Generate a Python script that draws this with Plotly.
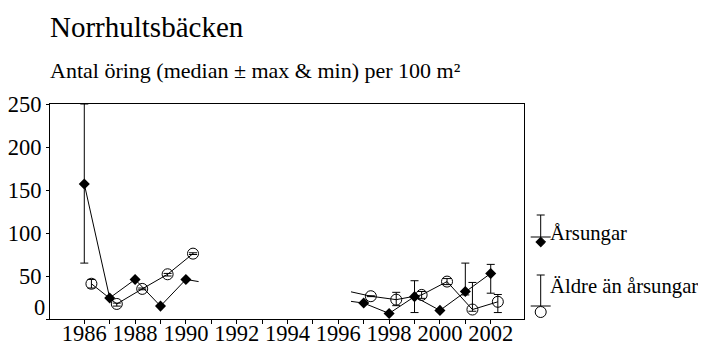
import plotly.graph_objects as go

# ---------------- data ----------------
years = list(range(1986, 2003))
N = None
ars_median = [157, 24.5, 46, 15, 46, N, N, N, N, N, N, 18.5, 6.5, 26, 10, 32, 53]
ars_min    = [65, 24.5, 46, 15, 46, N, N, N, N, N, N, 18.5, 6.5, 7.5, 10, 28, 30]
ars_max    = [250, 24.5, 46, 15, 46, N, N, N, N, N, N, 18.5, 6.5, 44.5, 10, 65, 63.5]

old_median = [41, 17.5, 35, 52, 76, N, N, N, N, N, N, 26.5, 22.5, 28, 43.5, 11, 20]
old_min    = [36, 15, 34, 50, 75, N, N, N, N, N, N, 26, 15.5, 24, 40, 9, 7.5]
old_max    = [46, 18.5, 36, 53, 77, N, N, N, N, N, N, 27, 31, 32, 47, 42.5, 28.5]
old_offset = 0.28

# partial line segments drawn toward the gap years
ars_stub_x = [1990.5, 1996.5]
ars_stub_y = [43.5, 20.5]
old_stub_x = [1996.5]
old_stub_y = [31.6]

tick_years = years
tick_labels = [str(y) if y % 2 == 0 else "" for y in years]
y_ticks = [0, 50, 100, 150, 200, 250]
y_labels = ["" if v == 0 else str(v) for v in y_ticks]

series_names = ["Årsungar", "Äldre än årsungar"]
title = "Norrhultsbäcken"
subtitle = "Antal öring (median ± max & min) per 100 m²"

FONT = "Liberation Serif, Times New Roman, serif"
TICK_SIZE = 22.5

# the page body adds an 8 px offset; work in window pixels and subtract it
OFF = 8
W, H = 706, 345
PL, PR, PT, PB = 50, 524, 104, 319   # plot box in window pixels


def line_path(xs, ys, sx, sy):
    pts = [(x, y) for x, y in zip(xs, ys) if y is not None] + list(zip(sx, sy))
    pts.sort()
    ox, oy = [], []
    prev = None
    for x, y in pts:
        if prev is not None and x - prev > 1.1:
            ox.append(None); oy.append(None)
        ox.append(x); oy.append(y)
        prev = x
    return ox, oy


def errs(med, lo, hi):
    plus = [None if m is None else h - m for m, h in zip(med, hi)]
    minus = [None if m is None else m - l for m, l in zip(med, lo)]
    return plus, minus


old_x = [y + old_offset for y in years]

fig = go.Figure()

lx, ly = line_path(years, ars_median, ars_stub_x, ars_stub_y)
fig.add_trace(go.Scatter(x=lx, y=ly, mode="lines", line=dict(color="black", width=1),
                         hoverinfo="skip", showlegend=False))
lx, ly = line_path(old_x, old_median, old_stub_x, old_stub_y)
fig.add_trace(go.Scatter(x=lx, y=ly, mode="lines", line=dict(color="black", width=1),
                         hoverinfo="skip", showlegend=False))

p, m = errs(old_median, old_min, old_max)
fig.add_trace(go.Scatter(
    x=old_x, y=old_median, mode="markers", name=series_names[1],
    marker=dict(symbol="circle-open", size=11, color="black", line=dict(width=1, color="black")),
    error_y=dict(type="data", symmetric=False, array=p, arrayminus=m,
                 color="black", thickness=1, width=4),
    showlegend=False))

p, m = errs(ars_median, ars_min, ars_max)
fig.add_trace(go.Scatter(
    x=years, y=ars_median, mode="markers", name=series_names[0],
    marker=dict(symbol="diamond", size=8.5, color="black"),
    error_y=dict(type="data", symmetric=False, array=p, arrayminus=m,
                 color="black", thickness=1, width=4),
    showlegend=False))

# ---------------- legend key (own axes, window-pixel units) ----------------
leg_x = 540.7
leg_items = [
    dict(top=215, line=237, mark=242, text=233, symbol="diamond", size=7.5),
    dict(top=275, line=306, mark=312, text=286, symbol="circle", size=11),
]
for it, name in zip(leg_items, series_names):
    common = dict(xaxis="x2", yaxis="y2", showlegend=False, hoverinfo="skip", cliponaxis=False)
    fig.add_trace(go.Scatter(x=[leg_x, leg_x], y=[it["top"], it["line"]], mode="lines",
                             line=dict(color="black", width=1), **common))
    fig.add_trace(go.Scatter(x=[leg_x - 4, leg_x + 4], y=[it["top"], it["top"]], mode="lines",
                             line=dict(color="black", width=1), **common))
    fig.add_trace(go.Scatter(x=[leg_x - 10, leg_x + 10], y=[it["line"], it["line"]], mode="lines",
                             line=dict(color="black", width=1), **common))
    fig.add_trace(go.Scatter(x=[leg_x], y=[it["mark"]], mode="markers",
                             marker=dict(symbol=it["symbol"], size=it["size"],
                                         color="black" if it["symbol"] == "diamond" else "white",
                                         line=dict(width=1, color="black")), **common))
    fig.add_annotation(x=548, y=it["text"], xref="x2", yref="y2", text=name, showarrow=False,
                       xanchor="left", yanchor="middle",
                       font=dict(family=FONT, size=20.7, color="black"))

fig_l = PL - OFF
fig_t = PT - OFF
fig_b = H - (PB - OFF)
fig_r = 2
pw = W - fig_l - fig_r
ph = H - fig_t - fig_b
main_right = (PR - PL) / pw


def px_x(x):   # window pixel -> paper x
    return (x - PL) / pw


def px_y(y):   # window pixel -> paper y
    return (PB - y) / ph


fig.add_annotation(x=px_x(48), y=px_y(27), xref="paper", yref="paper", text=title,
                   showarrow=False, xanchor="left", yanchor="middle",
                   font=dict(family=FONT, size=29, color="black"))
fig.add_annotation(x=px_x(48), y=px_y(71), xref="paper", yref="paper", text=subtitle,
                   showarrow=False, xanchor="left", yanchor="middle",
                   font=dict(family=FONT, size=22, color="black"))
fig.add_annotation(x=px_x(47), y=px_y(307), xref="paper", yref="paper", text="0",
                   showarrow=False, xanchor="right", yanchor="middle",
                   font=dict(family=FONT, size=TICK_SIZE, color="black"))

fig.update_layout(
    template="none",
    width=W, height=H,
    margin=dict(l=fig_l, r=fig_r, t=fig_t, b=fig_b, pad=0),
    paper_bgcolor="white", plot_bgcolor="rgba(0,0,0,0)",
    font=dict(family=FONT, size=21, color="black"),
    showlegend=False,
    xaxis=dict(domain=[0, main_right], range=[1984.65, 2003.31], tickvals=tick_years,
               ticktext=tick_labels, ticks="outside", ticklen=4, tickcolor="black",
               ticklabelstandoff=-10,
               showline=True, mirror=True, linecolor="black", linewidth=1,
               showgrid=False, zeroline=False, automargin=False,
               tickfont=dict(family=FONT, size=TICK_SIZE, color="black")),
    yaxis=dict(range=[0, 250], tickvals=y_ticks, ticktext=y_labels, ticks="outside", ticklen=3,
               tickcolor="black", showline=True, mirror=True, linecolor="black", linewidth=1,
               showgrid=False, zeroline=False, automargin=False,
               tickfont=dict(family=FONT, size=TICK_SIZE, color="black")),
    xaxis2=dict(domain=[px_x(528), 1], range=[528, PL + pw], visible=False, anchor="y2",
                fixedrange=True),
    yaxis2=dict(domain=[0, 1], range=[PB, PT], visible=False, anchor="x2", fixedrange=True),
)

fig.write_html("out.html")
